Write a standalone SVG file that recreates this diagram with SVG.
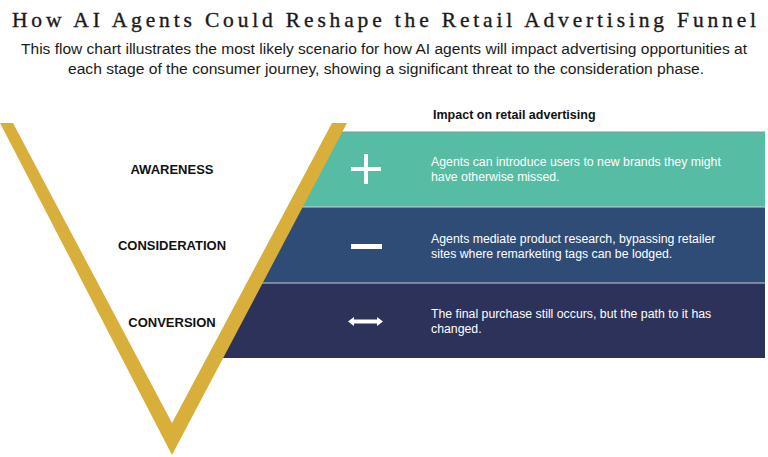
<svg xmlns="http://www.w3.org/2000/svg" width="768" height="457" viewBox="0 0 768 457">
<style>
.title{font-family:"Liberation Serif",serif;font-size:21.5px;fill:#1a1a1a;stroke:#1a1a1a;stroke-width:0.35}
.sub{font-family:"Liberation Sans",Arial,sans-serif;font-size:15.5px;fill:#1a1a1a}
.stage{font-family:"Liberation Sans",Arial,sans-serif;font-size:13px;font-weight:bold;fill:#111}
.hdr{font-family:"Liberation Sans",Arial,sans-serif;font-size:12.5px;font-weight:bold;fill:#111}
.desc{font-family:"Liberation Sans",Arial,sans-serif;font-size:12.3px;fill:#fff}
.sep{stroke:#c9cdd2;stroke-width:1.2}
.icon{fill:#fff}
</style>
<rect width="768" height="457" fill="#fff"/>
<text class="title" x="384" y="26.5" text-anchor="middle" textLength="744" lengthAdjust="spacing">How AI Agents Could Reshape the Retail Advertising Funnel</text>
<text class="sub" x="384" y="54" text-anchor="middle" textLength="726" lengthAdjust="spacingAndGlyphs">This flow chart illustrates the most likely scenario for how AI agents will impact advertising opportunities at</text>
<text class="sub" x="386" y="74" text-anchor="middle" textLength="636" lengthAdjust="spacingAndGlyphs">each stage of the consumer journey, showing a significant threat to the consideration phase.</text>
<text class="hdr" x="433" y="119">Impact on retail advertising</text>

<g id="band-awareness">
<polygon points="338,132 765,132 765,207 298,207" fill="#56bca3"/>
<line x1="340" y1="132" x2="765" y2="132" stroke="#7f9a93" stroke-width="1"/>
<rect class="icon" x="351" y="167" width="30" height="4"/>
<rect class="icon" x="364" y="154" width="4" height="30"/>
<text class="desc" x="431" y="166">Agents can introduce users to new brands they might</text>
<text class="desc" x="431" y="181">have otherwise missed.</text>
</g>
<g id="band-consideration">
<polygon points="298,207 765,207 765,283 258,283" fill="#2f4c77"/>
<rect class="icon" x="351" y="244" width="31" height="5"/>
<text class="desc" x="431" y="243">Agents mediate product research, bypassing retailer</text>
<text class="desc" x="431" y="258">sites where remarketing tags can be lodged.</text>
</g>
<g id="band-conversion">
<polygon points="258,283 765,283 765,358 219,358" fill="#2c3259"/>
<path class="icon" d="M348,321.5 L354,317 L354,319.5 L377,319.5 L377,317 L383,321.5 L377,326 L377,323.5 L354,323.5 L354,326 Z"/>
<text class="desc" x="431" y="318">The final purchase still occurs, but the path to it has</text>
<text class="desc" x="431" y="333">changed.</text>
</g>
<g id="separators">
<line class="sep" x1="300" y1="207" x2="765" y2="207"/>
<line class="sep" x1="260" y1="283" x2="765" y2="283"/>
</g>

<g id="funnel">
<polygon points="0,123 13,123 172,423 332,123 347,123 172,455" fill="#d9af3c"/>
</g>
<g id="stage-awareness"><text class="stage" x="172" y="174" text-anchor="middle">AWARENESS</text></g>
<g id="stage-consideration"><text class="stage" x="172" y="250" text-anchor="middle">CONSIDERATION</text></g>
<g id="stage-conversion"><text class="stage" x="172" y="327" text-anchor="middle">CONVERSION</text></g>
</svg>
